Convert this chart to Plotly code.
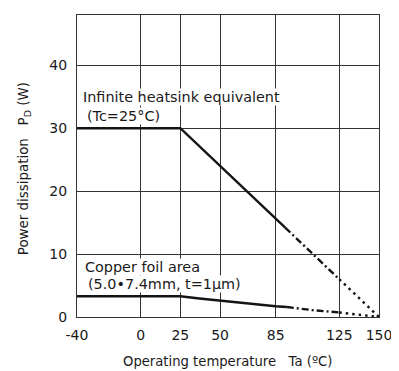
import plotly.graph_objects as go

# ---- data ----
temp_ticks = [-40, 0, 25, 50, 85, 125, 150]
pd_ticks = [0, 10, 20, 30, 40]

heatsink_solid_t = [-40, 25, 91]
heatsink_solid_pd = [30, 30, 14.2]
heatsink_dashdot_t = [91, 125]
heatsink_dashdot_pd = [14.2, 6.0]
heatsink_dot_t = [125, 150]
heatsink_dot_pd = [6.0, 0]

copper_solid_t = [-40, 25, 37, 50, 67, 85, 92]
copper_solid_pd = [3.3, 3.3, 2.95, 2.6, 2.12, 1.72, 1.58]
copper_dashdot_t = [92, 108, 125]
copper_dashdot_pd = [1.58, 1.1, 0.72]
copper_dot_t = [125, 150]
copper_dot_pd = [0.72, 0]

LINE = "#141414"
GRID = "#333333"
FONT = "DejaVu Sans"
TXT = "#1a1a1a"

fig = go.Figure()

def seg(x, y, dash):
    fig.add_trace(go.Scatter(x=x, y=y, mode="lines", showlegend=False,
                             line=dict(color=LINE, width=2.4, dash=dash),
                             hoverinfo="skip"))

seg(heatsink_solid_t, heatsink_solid_pd, "solid")
seg(heatsink_dashdot_t, heatsink_dashdot_pd, "7px,3px,2px,3px")
seg(heatsink_dot_t, heatsink_dot_pd, "2.5px,4px")
seg(copper_solid_t, copper_solid_pd, "solid")
seg(copper_dashdot_t, copper_dashdot_pd, "7px,3px,2px,3px")
seg(copper_dot_t, copper_dot_pd, "2.5px,4px")

annos = [
    dict(x=-36.6, y=34.9, text="Infinite heatsink equivalent"),
    dict(x=-34.5, y=32.0, text="(Tc=25°C)"),
    dict(x=-35.5, y=7.9, text="Copper foil area"),
    dict(x=-33.5, y=5.3, text="(5.0•7.4mm, t=1μm)"),
]
for a in annos:
    fig.add_annotation(x=a["x"], y=a["y"], text=a["text"], xref="x", yref="y",
                       xanchor="left", yanchor="middle", showarrow=False,
                       bgcolor="white", borderpad=0,
                       font=dict(family=FONT, size=14.4, color=TXT))

fig.add_annotation(x=0.497, y=-0.148, xref="paper", yref="paper",
                   text="Operating temperature   Ta (ºC)", showarrow=False,
                   xanchor="center", yanchor="middle",
                   font=dict(family=FONT, size=13.2, color=TXT))
fig.add_annotation(x=-0.175, y=0.49, xref="paper", yref="paper",
                   text="Power dissipation   P<sub>D</sub> (W)", showarrow=False,
                   textangle=-90, xanchor="center", yanchor="middle",
                   font=dict(family=FONT, size=13.4, color=TXT))

fig.update_xaxes(range=[-40, 150], tickvals=temp_ticks,
                 ticktext=[str(v) for v in temp_ticks],
                 showgrid=True, gridcolor=GRID, gridwidth=1,
                 showline=True, linecolor=GRID, linewidth=1, mirror=True,
                 zeroline=False, ticks="", ticklabelstandoff=5,
                 tickfont=dict(family=FONT, size=14, color=TXT))
fig.update_yaxes(range=[0, 48], tickvals=pd_ticks,
                 ticktext=[str(v) for v in pd_ticks],
                 showgrid=True, gridcolor=GRID, gridwidth=1,
                 showline=True, linecolor=GRID, linewidth=1, mirror=True,
                 zeroline=False, ticks="", ticklabelstandoff=6,
                 tickfont=dict(family=FONT, size=14, color=TXT))

# page body has an 8px margin, so the plot area is offset accordingly
fig.update_layout(width=399, height=371,
                  margin=dict(l=69, r=28, t=7, b=62),
                  plot_bgcolor="white", paper_bgcolor="white",
                  font=dict(family=FONT, color=TXT))

fig.write_html("out.html")
